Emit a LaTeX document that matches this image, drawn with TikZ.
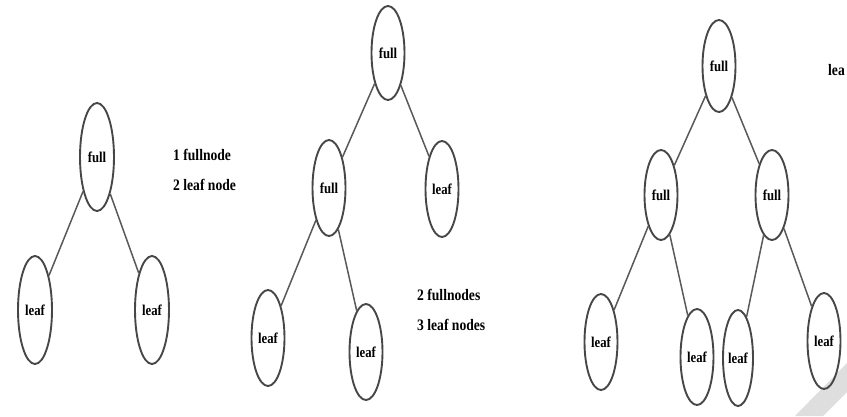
\documentclass[tikz,border=0pt]{standalone}
\usepackage{fontspec}
\setmainfont{Liberation Serif}
\usetikzlibrary{shapes.geometric}
\newcommand{\sqz}[1]{\scalebox{0.85}[1]{#1}}
\tikzset{
  treenode/.style={ellipse, draw=black!72, line width=1.9pt, inner sep=0pt,
    minimum width=33pt, minimum height=96pt,
    font=\fontsize{15}{17}\selectfont\bfseries},
  bignode/.style={treenode, minimum height=108pt, minimum width=34pt},
  edge/.style={draw=black!65, line width=1.5pt},
  note/.style={anchor=west, align=left, inner sep=0pt,
    font=\fontsize{16}{30}\selectfont\bfseries}
}
\begin{document}
\begin{tikzpicture}[x=1pt, y=-1pt]
\useasboundingbox (0,0) rectangle (847,416);
% watermark stripe
\fill[black!13] (795,416) -- (823,416) -- (847,392) -- (847,363) -- cycle;

% tree 1
\node[bignode] (r1) at (97,157) {\sqz{full}};
\node[bignode] (a1) at (35,310) {\sqz{leaf}};
\node[bignode] (b1) at (152,310) {\sqz{leaf}};
\draw[edge] (r1) -- (a1);
\draw[edge] (r1) -- (b1);
\node[note] (t1) at (173,170) {\sqz{1 fullnode}\\\sqz{2 leaf node}};

% tree 2
\node[treenode, minimum height=94pt] (r2) at (388,53) {\sqz{full}};
\node[treenode] (f2) at (329,188) {\sqz{full}};
\node[treenode] (l2) at (442,189) {\sqz{leaf}};
\node[treenode] (a2) at (268,338) {\sqz{leaf}};
\node[treenode] (b2) at (366,352) {\sqz{leaf}};
\draw[edge] (r2) -- (f2);
\draw[edge] (r2) -- (l2);
\draw[edge] (f2) -- (a2);
\draw[edge] (f2) -- (b2);
\node[note] (t2) at (417,310) {\sqz{2 fullnodes}\\\sqz{3 leaf nodes}};

% tree 3
\node[treenode, minimum height=92pt] (r3) at (719,66) {\sqz{full}};
\node[treenode, minimum height=90pt] (f3) at (661,195) {\sqz{full}};
\node[treenode, minimum height=90pt] (g3) at (772,195) {\sqz{full}};
\node[treenode] (a3) at (601,342) {\sqz{leaf}};
\node[treenode] (b3) at (697,357) {\sqz{leaf}};
\node[treenode, minimum width=30pt] (c3) at (738,358) {\sqz{leaf}};
\node[treenode] (d3) at (824,341) {\sqz{leaf}};
\draw[edge] (r3) -- (f3);
\draw[edge] (r3) -- (g3);
\draw[edge] (f3) -- (a3);
\draw[edge] (f3) -- (b3);
\draw[edge] (g3) -- (c3);
\draw[edge] (g3) -- (d3);
\node[note] (t3) at (828,70) {\sqz{lea}};
\end{tikzpicture}
\end{document}
